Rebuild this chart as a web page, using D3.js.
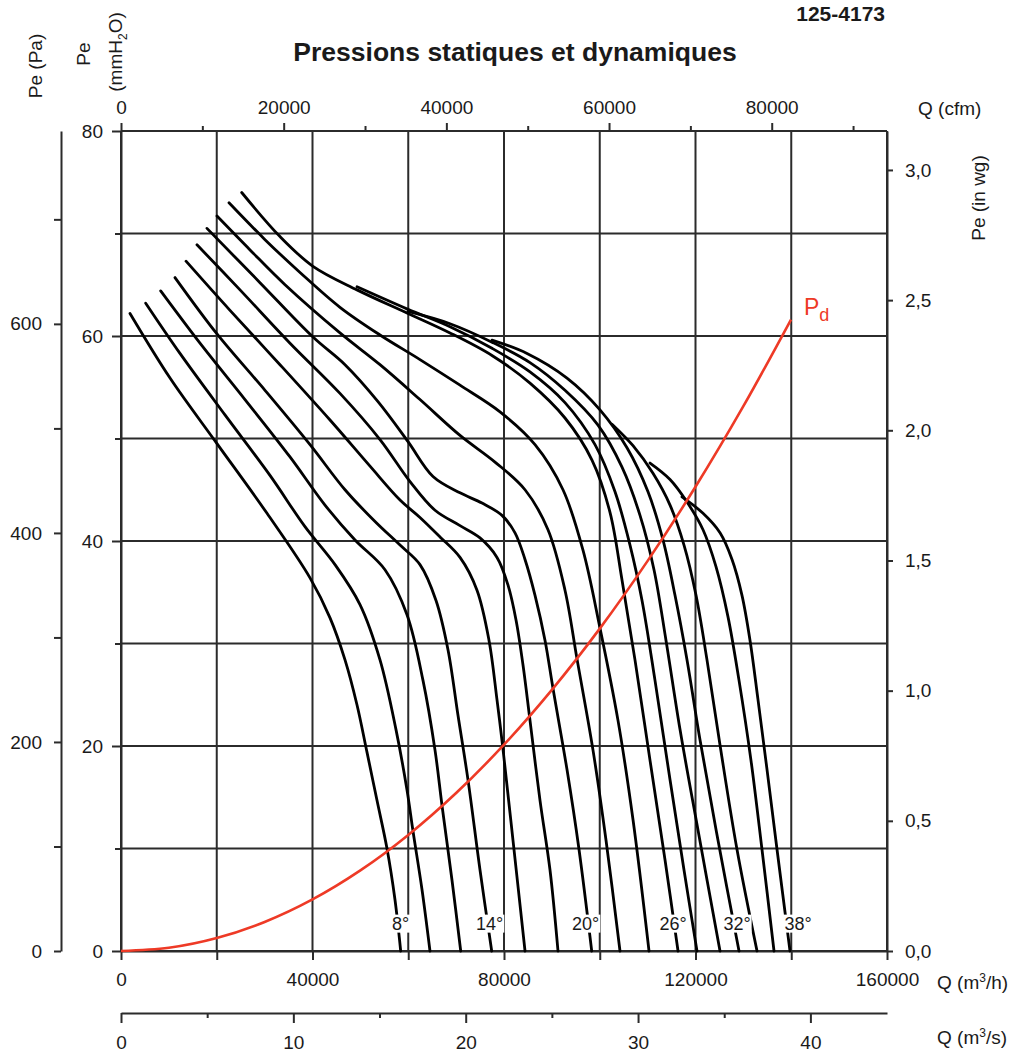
<!DOCTYPE html>
<html>
<head>
<meta charset="utf-8">
<script src="https://cdn.jsdelivr.net/npm/d3@7"></script>
<style>
  body { margin: 0; background: #fff; }
  text { font-family: "Liberation Sans", Arial, Helvetica, sans-serif; fill: #1a1a1a; }
</style>
</head>
<body>
<div id="chart"></div>
<script>
// blade angles (one curve each), Q in m3/h, Pe in mmH2O
const angles = [8, 10, 12, 14, 16, 18, 20, 22, 24, 26, 28, 30, 32, 34, 36, 38]
const labelledAngles = [8, 14, 20, 26, 32, 38]

const curve08 = [[1880,62.2],[10240,55.9],[20050,49.5],[30500,42.7],[39480,36.4],[43660,32.5],[46790,28.4],[49300,24.0],[51380,19.4],[53470,14.7],[55560,10.0],[57230,5.0],[58420,0]]
const curve10 = [[5160,63.2],[12320,58.3],[21720,52.3],[31120,46.4],[38430,41.4],[44700,37.7],[49920,33.8],[54100,28.4],[57440,21.6],[59740,15.7],[60990,11.7],[62870,6.0],[64540,0]]
const curve12 = [[8290,64.4],[16500,59.3],[25900,53.8],[35300,48.2],[42610,43.5],[48880,40.1],[55140,37.2],[59740,32.8],[63080,26.4],[65590,19.6],[67050,14.2],[69140,6.9],[70960,0]]
const curve14 = [[11280,65.7],[20050,60.2],[30080,54.7],[39480,49.4],[46790,45.0],[53060,41.9],[58280,39.6],[62450,37.7],[65800,34.2],[68300,29.4],[70390,23.0],[72480,16.7],[74990,7.9],[77430,0]]
const curve16 = [[13580,67.3],[22770,62.5],[33210,57.2],[43660,51.8],[52010,47.3],[58280,44.0],[62450,42.3],[66630,40.4],[70810,38.4],[74360,35.2],[76870,30.3],[78540,24.5],[79790,19.7],[81880,10.8],[84390,0]]
const curve18 = [[15870,68.9],[24860,64.5],[35300,59.3],[45740,54.4],[54100,49.9],[60370,45.8],[65590,43.0],[70810,41.5],[74990,40.3],[78540,38.4],[80840,35.7],[82510,32.3],[83970,27.9],[85430,22.5],[87520,14.7],[89610,7.9],[91280,0]]
const curve20 = [[17960,70.5],[29030,65.2],[40100,59.9],[46790,57.2],[53680,53.6],[59950,49.7],[65170,46.3],[70810,44.7],[75410,43.7],[79580,42.5],[82300,40.8],[84390,38.2],[86480,34.7],[88570,30.3],[90240,25.6],[93160,17.7],[95670,9.9],[98320,0]]
const curve22 = [[20050,71.7],[26950,68.4],[34260,65.0],[45740,60.3],[54100,57.2],[62450,53.8],[70810,50.3],[78120,47.7],[84390,45.0],[89190,41.1],[92740,35.2],[95250,28.5],[98590,19.6],[101310,10.8],[104230,0]]
const curve24 = [[22560,73.0],[30080,69.4],[37390,66.2],[45740,62.8],[54100,60.1],[62450,57.7],[70810,55.2],[79170,52.6],[86480,49.4],[92320,45.0],[96500,39.1],[100050,31.5],[103810,22.5],[106950,12.8],[110290,0]]
const curve26 = [[25210,74.0],[33210,69.7],[40100,66.8],[49300,64.5],[59950,62.2],[68720,60.3],[77490,58.1],[85430,55.4],[92740,52.0],[98380,47.9],[102140,42.8],[104650,36.2],[107360,28.4],[110500,18.6],[113630,8.9],[116350,0]]
const curve28 = [[49300,64.8],[59950,62.6],[68720,60.9],[77490,58.8],[85430,56.5],[92740,53.5],[99010,49.4],[103190,44.8],[106320,39.6],[108830,34.2],[111540,26.4],[114680,16.7],[117600,7.9],[120310,0]]
const curve30 = [[59950,62.4],[68720,61.2],[77490,59.4],[85430,57.4],[92740,54.7],[99640,51.3],[104650,47.2],[108410,42.5],[111330,37.2],[113840,30.3],[116770,21.6],[120520,11.8],[125120,0]]
const curve32 = [[77490,59.6],[84810,58.3],[93160,55.9],[100050,52.8],[105690,49.1],[110080,44.8],[113210,40.1],[115720,34.7],[118230,28.4],[120940,20.6],[124700,10.8],[129090,0]]
const curve34 = [[102560,51.4],[106950,49.3],[111120,46.6],[114680,43.5],[117600,39.6],[120110,34.7],[122400,28.4],[125120,20.1],[128670,9.9],[132850,0]]
const curve36 = [[110500,47.6],[114680,46.0],[118230,43.8],[121570,41.1],[124280,37.5],[126790,32.6],[129090,26.4],[131590,18.6],[133890,9.9],[136400,0]]
const curve38 = [[117180,44.3],[121570,42.7],[125120,40.8],[127630,38.2],[129710,34.7],[131390,30.3],[133060,24.5],[134940,17.7],[137030,9.9],[139740,0]]

// dynamic pressure Pd
const pdQ = [0, 10000, 20000, 30000, 40000, 50000, 60000, 70000, 80000, 90000, 100000, 110000, 120000, 130000, 139950]
const pdP = [0, 0.31, 1.26, 2.83, 5.03, 7.86, 11.32, 15.41, 20.13, 25.48, 31.45, 38.06, 45.29, 53.15, 61.6]

// axes ticks
const qTicks = [0, 20000, 40000, 60000, 80000, 100000, 120000, 140000, 160000]
const qLabels = [0, 40000, 80000, 120000, 160000]
const mmTicks = [0, 10, 20, 30, 40, 50, 60, 70, 80]
const mmLabels = [0, 20, 40, 60, 80]
const paTicks = [0, 100, 200, 300, 400, 500, 600, 700]
const paLabels = [0, 200, 400, 600]
const inwgTicks = [0, 0.5, 1, 1.5, 2, 2.5, 3]
const cfmTicks = [0, 10000, 20000, 30000, 40000, 50000, 60000, 70000, 80000, 90000]
const cfmLabels = [0, 20000, 40000, 60000, 80000]
const m3sTicks = [0, 5, 10, 15, 20, 25, 30, 35, 40]
const m3sLabels = [0, 10, 20, 30, 40]

const curves = [curve08, curve10, curve12, curve14, curve16, curve18, curve20, curve22,
  curve24, curve26, curve28, curve30, curve32, curve34, curve36, curve38]

// small horizontal nudges of the angle labels (px)
const labelNudge = [0, -2, -6, -5, -2, 8]

const dimensions = {
  width: 1017,
  height: 1056,
  margin: { top: 131, right: 130, bottom: 105, left: 121 }
}
const plotLeft = dimensions.margin.left
const plotRight = dimensions.width - dimensions.margin.right
const plotTop = dimensions.margin.top
const plotBottom = dimensions.height - dimensions.margin.bottom

const gridColor = '#2b2b2b'
const redColor = '#ee3a26'
const fontSize = 19

const svg = d3.select('#chart')
  .append('svg')
  .attr('width', dimensions.width)
  .attr('height', dimensions.height)
  .style('background', '#fff')

const xScale = d3.scaleLinear().domain([0, 160000]).range([plotLeft, plotRight])
const yScale = d3.scaleLinear().domain([0, 80]).range([plotBottom, plotTop])
const paScale = d3.scaleLinear().domain([0, 80 * 9.80665]).range([plotBottom, plotTop])
const inScale = d3.scaleLinear().domain([0, 80 / 25.4]).range([plotBottom, plotTop])
const cfmScale = d3.scaleLinear().domain([0, 160000 / 1.69901]).range([plotLeft, plotRight])
const m3sScale = d3.scaleLinear().domain([0, 160000 / 3600]).range([plotLeft, plotRight])

// grid
const grid = svg.append('g').attr('stroke', gridColor).attr('stroke-width', 2)
grid.selectAll('.vgrid')
  .data(qTicks)
  .join('line')
  .attr('x1', xScale).attr('x2', xScale)
  .attr('y1', plotTop).attr('y2', plotBottom)
grid.selectAll('.hgrid')
  .data(mmTicks)
  .join('line')
  .attr('x1', plotLeft).attr('x2', plotRight)
  .attr('y1', yScale).attr('y2', yScale)

function styleAxis(g) {
  g.selectAll('path.domain').attr('stroke', gridColor).attr('stroke-width', 2)
  g.selectAll('.tick line').attr('stroke', gridColor).attr('stroke-width', 2)
  g.selectAll('text')
    .style('font-size', fontSize + 'px')
    .style('font-family', '"Liberation Sans", Arial, sans-serif')
    .attr('fill', '#1a1a1a')
}

// bottom Q m3/h
svg.append('g')
  .attr('transform', `translate(0, ${plotBottom})`)
  .call(d3.axisBottom(xScale).tickValues(qTicks).tickSize(9).tickSizeOuter(0).tickPadding(13)
    .tickFormat(d => qLabels.includes(d) ? d : ''))
  .call(styleAxis)

// left mmH2O
const mmAxisGroup = svg.append('g')
  .attr('transform', `translate(${plotLeft}, 0)`)
  .call(d3.axisLeft(yScale).tickValues(mmTicks).tickSize(9).tickSizeOuter(0).tickPadding(9)
    .tickFormat(d => mmLabels.includes(d) ? d : ''))
  .call(styleAxis)
mmAxisGroup.selectAll('.tick line').attr('x2', d => mmLabels.includes(d) ? -9 : -6)

// far left Pa
svg.append('g')
  .attr('transform', `translate(61, 0)`)
  .call(d3.axisLeft(paScale).tickValues(paTicks).tickSize(7).tickSizeOuter(0).tickPadding(12)
    .tickFormat(d => paLabels.includes(d) ? d : ''))
  .call(styleAxis)

// right in wg
svg.append('g')
  .attr('transform', `translate(${plotRight}, 0)`)
  .call(d3.axisRight(inScale).tickValues(inwgTicks).tickSize(6).tickSizeOuter(0).tickPadding(12)
    .tickFormat(d => d3.format('.1f')(d).replace('.', ',')))
  .call(styleAxis)

// top cfm
const cfmAxisGroup = svg.append('g')
  .attr('transform', `translate(0, ${plotTop})`)
  .call(d3.axisTop(cfmScale).tickValues(cfmTicks).tickSize(8).tickSizeOuter(0).tickPadding(9)
    .tickFormat(d => cfmLabels.includes(d) ? d : ''))
  .call(styleAxis)
cfmAxisGroup.selectAll('.tick line').attr('y2', d => cfmLabels.includes(d) ? -8 : -5)
cfmAxisGroup.select('path.domain').remove()

// m3/s
const m3sAxisGroup = svg.append('g')
  .attr('transform', `translate(0, 1013)`)
  .call(d3.axisBottom(m3sScale).tickValues(m3sTicks).tickSize(10).tickSizeOuter(0).tickPadding(13)
    .tickFormat(d => m3sLabels.includes(d) ? d : ''))
  .call(styleAxis)
m3sAxisGroup.selectAll('.tick line').attr('y2', d => m3sLabels.includes(d) ? 10 : 5)

// fan curves
const line = d3.line()
  .x(d => xScale(d[0]))
  .y(d => yScale(d[1]))
  .curve(d3.curveCatmullRom.alpha(0.5))

svg.append('g')
  .selectAll('path')
  .data(curves)
  .join('path')
  .attr('d', line)
  .attr('fill', 'none')
  .attr('stroke', '#000')
  .attr('stroke-width', 2.8)
  .attr('stroke-linecap', 'round')

// dynamic pressure
const pdData = pdQ.map((q, i) => [q, pdP[i]])
svg.append('path')
  .datum(pdData)
  .attr('d', line)
  .attr('fill', 'none')
  .attr('stroke', redColor)
  .attr('stroke-width', 2.6)

const pdEnd = pdData[pdData.length - 1]
const pdLabel = svg.append('text')
  .attr('x', xScale(pdEnd[0]) + 13)
  .attr('y', yScale(pdEnd[1]) - 5)
  .style('font-size', '23px')
  .style('fill', redColor)
pdLabel.append('tspan').text('P')
pdLabel.append('tspan').attr('dy', 6).style('font-size', '18px').text('d')

// angle labels on the curves
const labelGroup = svg.append('g')
labelledAngles.forEach((a, i) => {
  const c = curves[angles.indexOf(a)]
  const last = c[c.length - 1]
  const t = labelGroup.append('text')
    .attr('x', xScale(last[0]) + labelNudge[i])
    .attr('y', yScale(2.7))
    .attr('text-anchor', 'middle')
    .attr('dy', '0.35em')
    .style('font-size', '18px')
    .text(a + '°')
  const bb = t.node().getBBox()
  labelGroup.insert('rect', 'text')
    .attr('x', bb.x - 1).attr('y', bb.y + 1)
    .attr('width', bb.width + 2).attr('height', bb.height - 2)
    .attr('fill', '#fff')
})

// titles
svg.append('text')
  .attr('x', 515).attr('y', 61)
  .attr('text-anchor', 'middle')
  .style('font-size', '26.5px').style('font-weight', 'bold')
  .text('Pressions statiques et dynamiques')

svg.append('text')
  .attr('x', 885).attr('y', 21)
  .attr('text-anchor', 'end')
  .style('font-size', '21px').style('font-weight', 'bold')
  .text('125-4173')

svg.append('text')
  .attr('x', 918).attr('y', 108).attr('dy', '0.35em')
  .style('font-size', fontSize + 'px')
  .text('Q (cfm)')

const m3h = svg.append('text')
  .attr('x', 937).attr('y', 982).attr('dy', '0.35em')
  .style('font-size', fontSize + 'px')
m3h.append('tspan').text('Q (m')
m3h.append('tspan').attr('dy', -7).style('font-size', '12px').text('3')
m3h.append('tspan').attr('dy', 7).text('/h)')

const m3s = svg.append('text')
  .attr('x', 937).attr('y', 1037).attr('dy', '0.35em')
  .style('font-size', fontSize + 'px')
m3s.append('tspan').text('Q (m')
m3s.append('tspan').attr('dy', -7).style('font-size', '12px').text('3')
m3s.append('tspan').attr('dy', 7).text('/s)')

svg.append('text')
  .attr('transform', 'translate(978, 198) rotate(-90)')
  .attr('text-anchor', 'middle').attr('dy', '0.35em')
  .style('font-size', fontSize + 'px')
  .text('Pe (in wg)')

svg.append('text')
  .attr('transform', 'translate(35, 66) rotate(-90)')
  .attr('text-anchor', 'middle').attr('dy', '0.35em')
  .style('font-size', fontSize + 'px')
  .text('Pe (Pa)')

svg.append('text')
  .attr('transform', 'translate(83, 54) rotate(-90)')
  .attr('text-anchor', 'middle').attr('dy', '0.35em')
  .style('font-size', fontSize + 'px')
  .text('Pe')

const mmh2o = svg.append('text')
  .attr('transform', 'translate(115, 52) rotate(-90)')
  .attr('text-anchor', 'middle').attr('dy', '0.35em')
  .style('font-size', fontSize + 'px')
mmh2o.append('tspan').text('(mmH')
mmh2o.append('tspan').attr('dy', 5).style('font-size', '12px').text('2')
mmh2o.append('tspan').attr('dy', -5).text('O)')
</script>
</body>
</html>
